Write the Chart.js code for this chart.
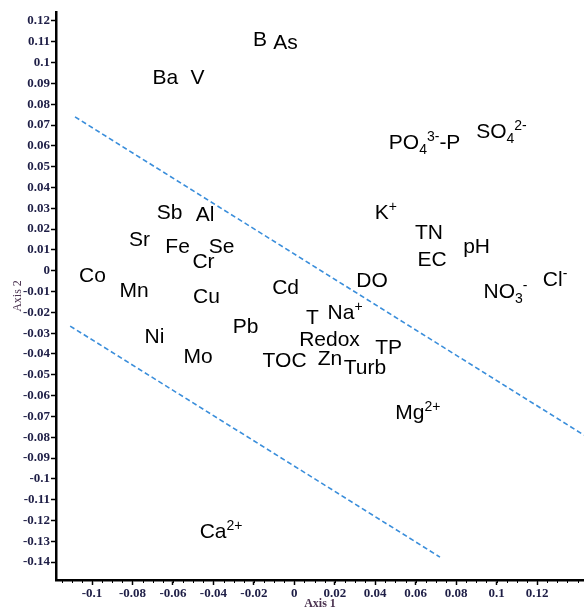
<!DOCTYPE html>
<html>
<head>
<meta charset="utf-8">
<script src="https://cdn.jsdelivr.net/npm/chart.js@4.4.0/dist/chart.umd.min.js"></script>
<style>
  html, body { margin: 0; padding: 0; background: #fff; }
  #wrap { width: 584px; height: 611px; }
</style>
</head>
<body>
<div id="wrap"><canvas id="biplot" width="584" height="611"></canvas></div>
<script>
// --- data ---
// labels use _{..} for subscript and ^{..} for superscript
const varNames = ["B", "As", "Ba", "V", "PO_{4}^{3-}-P", "SO_{4}^{2-}",
  "Sb", "Al", "Sr", "Fe", "Se", "Cr", "Co", "Mn", "Cu", "Cd", "DO",
  "K^{+}", "TN", "EC", "pH", "NO_{3}^{-}", "Cl^{-}", "T", "Na^{+}",
  "Redox", "TP", "Pb", "Ni", "Mo", "TOC", "Zn", "Turb", "Mg^{2+}", "Ca^{2+}"];
const axis1 = [-0.0170, -0.0043, -0.0637, -0.0479, 0.0644, 0.1024,
  -0.0617, -0.0441, -0.0765, -0.0577, -0.0360, -0.0449, -0.0998, -0.0792, -0.0434, -0.0043, 0.0384,
  0.0453, 0.0666, 0.0681, 0.0901, 0.1044, 0.1289, 0.0090, 0.0251,
  0.0174, 0.0466, -0.0241, -0.0691, -0.0476, -0.0048, 0.0176, 0.0349, 0.0611, -0.0362];
const axis2 = [0.1116, 0.1101, 0.0933, 0.0933, 0.0621, 0.0676,
  0.0284, 0.0275, 0.0157, 0.0119, 0.0119, 0.0051, -0.0018, -0.0090, -0.0117, -0.0078, -0.0042,
  0.0284, 0.0188, 0.0059, 0.0119, -0.0093, -0.0037, -0.0220, -0.0196,
  -0.0326, -0.0364, -0.0261, -0.0309, -0.0407, -0.0427, -0.0417, -0.0460, -0.0677, -0.1246];

// dashed group boundaries
const upperLineX = [-0.1084, 0.1432];
const upperLineY = [0.0739, -0.0790];
const lowerLineX = [-0.1108, 0.0720];
const lowerLineY = [-0.0266, -0.1376];

// tick labels
const xTickLabels = ["-0.1", "-0.08", "-0.06", "-0.04", "-0.02", "0", "0.02", "0.04", "0.06", "0.08", "0.1", "0.12"];
const yTickLabels = ["0.12", "0.11", "0.1", "0.09", "0.08", "0.07", "0.06", "0.05", "0.04", "0.03", "0.02", "0.01", "0",
  "-0.01", "-0.02", "-0.03", "-0.04", "-0.05", "-0.06", "-0.07", "-0.08", "-0.09", "-0.1", "-0.11", "-0.12", "-0.13", "-0.14"];

const xMin = -0.1178, xMax = 0.1432;
const yMin = -0.1486, yMax = 0.1243;
const minorStep = 0.005;

const labelFont = '"Liberation Sans", Arial, sans-serif';
const tickFont = { family: '"Liberation Serif", "Times New Roman", serif', size: 13, weight: 'bold' };

// split "SO_{4}^{2-}" into runs
function parseLabel(s) {
  const parts = [];
  let i = 0, buf = "";
  while (i < s.length) {
    const c = s[i];
    if ((c === "_" || c === "^") && s[i + 1] === "{") {
      if (buf) { parts.push({ t: buf, k: 0 }); buf = ""; }
      const end = s.indexOf("}", i);
      parts.push({ t: s.slice(i + 2, end), k: c === "_" ? -1 : 1 });
      i = end + 1;
    } else { buf += c; i++; }
  }
  if (buf) parts.push({ t: buf, k: 0 });
  return parts;
}

function drawRich(ctx, text, cx, cy) {
  const big = 21, small = 14;
  const parts = parseLabel(text);
  let w = 0;
  parts.forEach(p => {
    ctx.font = (p.k ? small : big) + "px " + labelFont;
    p.w = ctx.measureText(p.t).width;
    w += p.w;
  });
  let x = cx - w / 2;
  const base = cy + big * 0.716 / 2;
  ctx.textAlign = "left";
  ctx.textBaseline = "alphabetic";
  ctx.fillStyle = "#000";
  parts.forEach(p => {
    ctx.font = (p.k ? small : big) + "px " + labelFont;
    const dy = p.k === 1 ? -8 : (p.k === -1 ? 5 : 0);
    ctx.fillText(p.t, x, base + dy);
    x += p.w;
  });
}

// --- plugin: variable names at their scores ---
const namesPlugin = {
  id: "names",
  afterDatasetsDraw(chart) {
    const meta = chart.getDatasetMeta(0);
    const ctx = chart.ctx;
    ctx.save();
    meta.data.forEach((pt, i) => drawRich(ctx, varNames[i], pt.x, pt.y));
    ctx.restore();
  }
};

// --- plugin: minor tick marks on Axis 1 ---
const minorTicks = {
  id: "minorTicks",
  afterDraw(chart) {
    const { ctx, scales: { x } } = chart;
    ctx.save();
    ctx.strokeStyle = "#000";
    ctx.lineWidth = 1;
    ctx.beginPath();
    for (let v = Math.ceil(xMin / minorStep) * minorStep; v <= xMax; v += minorStep) {
      const px = Math.round(x.getPixelForValue(v)) + 0.5;
      ctx.moveTo(px, x.top);
      ctx.lineTo(px, x.top + 3);
    }
    ctx.stroke();
    ctx.restore();
  }
};

const pts = axis1.map((v, i) => ({ x: v, y: axis2[i] }));
const dashStyle = {
  showLine: true, borderColor: "#3a8edb", borderWidth: 1.6,
  borderDash: [5, 3], pointRadius: 0, fill: false
};

new Chart(document.getElementById("biplot"), {
  type: "scatter",
  data: {
    datasets: [
      { data: pts, pointRadius: 0 },
      Object.assign({ data: upperLineX.map((v, i) => ({ x: v, y: upperLineY[i] })) }, dashStyle),
      Object.assign({ data: lowerLineX.map((v, i) => ({ x: v, y: lowerLineY[i] })) }, dashStyle),
    ],
  },
  options: {
    responsive: false,
    animation: false,
    layout: { padding: { top: 12, right: 0, left: 0, bottom: 0 } },
    plugins: { legend: { display: false }, tooltip: { enabled: false } },
    scales: {
      x: {
        type: "linear", min: xMin, max: xMax,
        afterBuildTicks: s => { s.ticks = xTickLabels.map(t => ({ value: parseFloat(t) })); },
        afterFit: s => { s.height = 31; },
        grid: { drawOnChartArea: false, tickLength: 5, tickWidth: 1.5, tickColor: "#000" },
        border: { color: "#000", width: 2.5 },
        ticks: { callback: (v, i) => xTickLabels[i], font: tickFont, color: "#1e1e46",
          padding: 1, maxRotation: 0, autoSkip: false },
        title: { display: true, text: "Axis 1", color: "#4b3350", padding: 0,
          font: { family: tickFont.family, size: 12, weight: 'bold' } },
      },
      y: {
        type: "linear", min: yMin, max: yMax,
        afterBuildTicks: s => { s.ticks = yTickLabels.map(t => ({ value: parseFloat(t) })); },
        afterFit: s => { s.width = 56; },
        grid: { drawOnChartArea: false, tickLength: 5, tickWidth: 1.5, tickColor: "#000" },
        border: { color: "#000", width: 2.5 },
        ticks: { callback: (v, i) => yTickLabels[i], font: tickFont, color: "#1e1e46",
          padding: 1, autoSkip: false },
        title: { display: true, text: "Axis 2", color: "#4b3350", padding: { top: 11 },
          font: { family: tickFont.family, size: 12 } },
      },
    },
  },
  plugins: [namesPlugin, minorTicks],
});
</script>
</body>
</html>
